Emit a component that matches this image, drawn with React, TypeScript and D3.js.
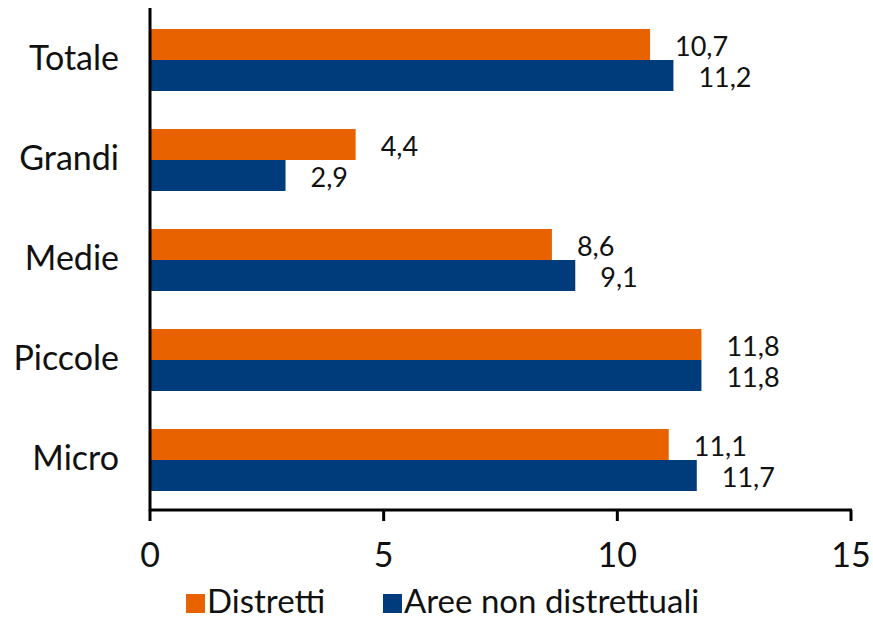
import React from "react";
import * as d3 from "d3";

const categories = ["Totale", "Grandi", "Medie", "Piccole", "Micro"];
const distretti = [10.7, 4.4, 8.6, 11.8, 11.1];
const nonDistrettuali = [11.2, 2.9, 9.1, 11.8, 11.7];
const seriesNames = ["Distretti", "Aree non distrettuali"];
const ticks = [0, 5, 10, 15];
const colors = ["#E86200", "#003B7B"];

export default function App() {
  const W = 873, H = 621;
  const x = d3.scaleLinear().domain([0, 15]).range([150, 851]);
  const y = d3.scaleBand().domain(categories).range([10, 510]).paddingInner(0.38).paddingOuter(0.19);
  const sub = d3.scaleBand().domain(["0", "1"]).range([0, y.bandwidth()]);
  const font = "Lato, 'Open Sans', sans-serif";
  const fmt = (v: number) => v.toFixed(1).replace(".", ",");
  const series = [distretti, nonDistrettuali];
  return (
    <svg width={W} height={H} style={{ position: "absolute", left: 0, top: 0, background: "#fff" }}>
      {categories.map((c, i) =>
        series.map((s, k) => {
          const y0 = (y(c) as number) + (sub(String(k)) as number);
          return (
            <g key={c + k}>
              <rect x={x(0)} y={y0} width={x(s[i]) - x(0)} height={sub.bandwidth()} fill={colors[k]} />
              <text x={x(s[i]) + 25} y={y0 + sub.bandwidth() / 2 + 11} fontFamily={font} fontSize={27} fill="#111">
                {fmt(s[i])}
              </text>
            </g>
          );
        })
      )}
      {categories.map((c) => (
        <text key={c} x={119} y={(y(c) as number) + y.bandwidth() / 2 + 10} textAnchor="end" fontFamily={font} fontSize={34} fill="#111">
          {c}
        </text>
      ))}
      <line x1={150} x2={150} y1={8} y2={511} stroke="#000" strokeWidth={3} />
      <line x1={150} x2={852} y1={510} y2={510} stroke="#000" strokeWidth={3} />
      {ticks.map((t) => (
        <g key={t}>
          <line x1={x(t)} x2={x(t)} y1={510} y2={521} stroke="#000" strokeWidth={3} />
          <text x={x(t)} y={567} textAnchor="middle" fontFamily={font} fontSize={34} fill="#111">
            {t}
          </text>
        </g>
      ))}
      <rect x={186} y={594} width={19} height={19} fill={colors[0]} />
      <text x={207} y={613} fontFamily={font} fontSize={33} fill="#111">{seriesNames[0]}</text>
      <rect x={383} y={594} width={19} height={19} fill={colors[1]} />
      <text x={404} y={613} fontFamily={font} fontSize={33} fill="#111">{seriesNames[1]}</text>
    </svg>
  );
}
